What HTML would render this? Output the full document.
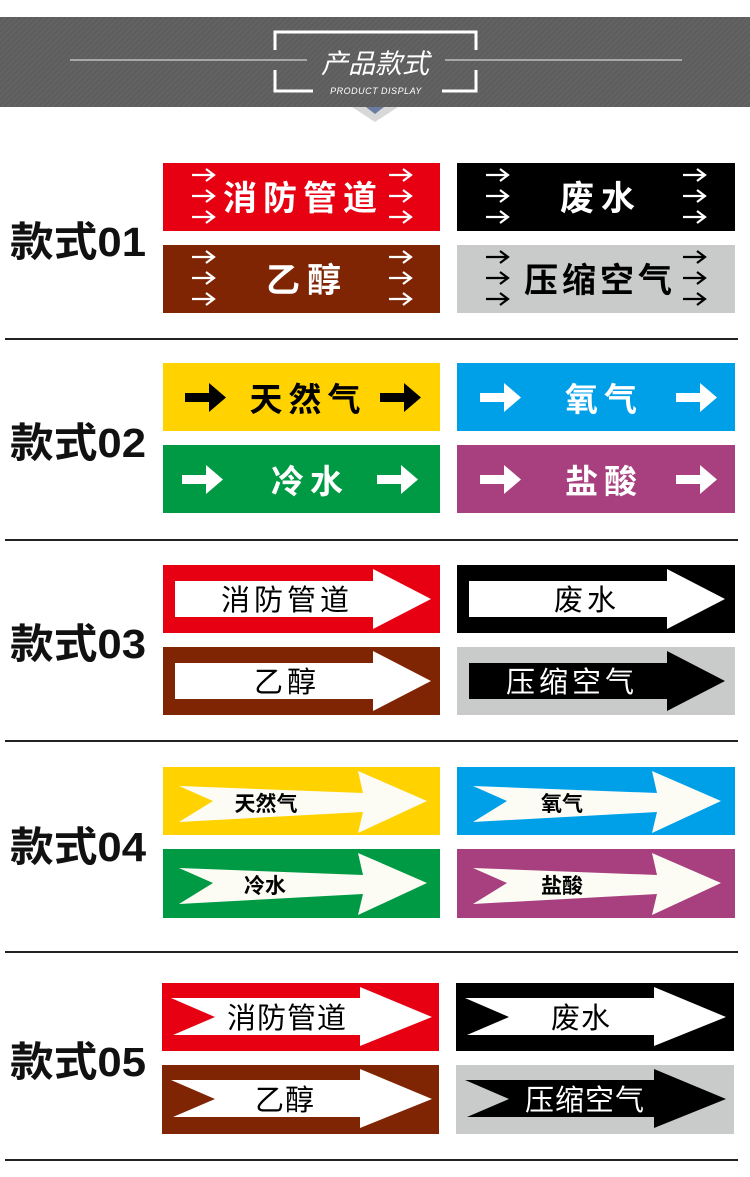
<!DOCTYPE html>
<html><head><meta charset="utf-8"><style>
html,body{margin:0;padding:0;background:#fff}
svg{display:block}
text{font-family:"Liberation Sans","Noto Sans CJK SC",sans-serif}
</style></head><body>
<svg width="750" height="1177" viewBox="0 0 750 1177" xmlns="http://www.w3.org/2000/svg">
<defs>
<pattern id="hatch" width="4" height="4" patternUnits="userSpaceOnUse" patternTransform="rotate(45)">
<rect width="4" height="4" fill="#5e5e5e"/><rect width="1" height="4" fill="#666"/></pattern>
<g id="sa"><path d="M0 0 H22 M14 -6 L22 0 L14 6" stroke="currentColor" stroke-width="2.2" fill="none"/></g>
<g id="sa3"><use href="#sa" y="0"/><use href="#sa" y="21"/><use href="#sa" y="42"/></g>
<path id="ba" d="M0 10 H24 V0 L41 14.5 L24 29 V19 H0 Z"/>
<path id="a3" d="M12 16 H210 V4 L268 34 L210 64 V52 H12 Z"/>
<path id="a4" d="M16 19 L200 26 L195 4 L264 34 L195 66 L200 45 L16 55 L50 34 Z"/>
<path id="a5" d="M9 15 H198 V4 L270 34 L198 63 V52 H11 L53 34 Z"/>
</defs>

<!-- header -->
<rect x="0" y="17" width="750" height="90" fill="url(#hatch)"/>
<polygon points="352,107 398,107 375,122" fill="#d8d8d8"/>
<polygon points="366,107 384,107 375,114" fill="#6a7ca0"/>
<line x1="70" y1="60" x2="307" y2="60" stroke="#eee" stroke-width="1"/>
<line x1="445" y1="60" x2="682" y2="60" stroke="#eee" stroke-width="1"/>
<path d="M275 50 V32 H476 V50" stroke="#fff" stroke-width="3" fill="none"/>
<path d="M275 70 V91 H313 M442 91 H476 V70" stroke="#fff" stroke-width="3" fill="none"/>
<text x="375" y="73" font-size="27" fill="#fff" text-anchor="middle" font-style="italic">产品款式</text>
<text x="376" y="94" font-size="9" fill="#fff" text-anchor="middle" font-style="italic" letter-spacing="0.5">PRODUCT DISPLAY</text>

<!-- separators -->
<g stroke="#222" stroke-width="2">
<line x1="5" y1="339" x2="738" y2="339"/>
<line x1="5" y1="540" x2="738" y2="540"/>
<line x1="5" y1="741" x2="738" y2="741"/>
<line x1="5" y1="952" x2="738" y2="952"/>
<line x1="5" y1="1160" x2="738" y2="1160"/>
</g>

<!-- row labels -->
<g font-size="41" font-weight="bold" fill="#111">
<text x="10" y="256" textLength="136" lengthAdjust="spacingAndGlyphs">款式01</text>
<text x="10" y="457" textLength="136" lengthAdjust="spacingAndGlyphs">款式02</text>
<text x="10" y="658" textLength="136" lengthAdjust="spacingAndGlyphs">款式03</text>
<text x="10" y="861" textLength="136" lengthAdjust="spacingAndGlyphs">款式04</text>
<text x="10" y="1076" textLength="136" lengthAdjust="spacingAndGlyphs">款式05</text>
</g>

<!-- style 1 -->
<rect x="163" y="163" width="277" height="68" fill="#e60012"/>
<rect x="457" y="163" width="278" height="68" fill="#000"/>
<rect x="163" y="245" width="277" height="68" fill="#7f2504"/>
<rect x="457" y="245" width="278" height="68" fill="#c9caca"/>
<g color="#fff">
<use href="#sa3" x="192" y="175"/><use href="#sa3" x="389" y="175"/>
<use href="#sa3" x="192" y="257"/><use href="#sa3" x="389" y="257"/>
<use href="#sa3" x="486" y="175"/><use href="#sa3" x="683" y="175"/>
</g>
<g color="#000"><use href="#sa3" x="486" y="257"/><use href="#sa3" x="683" y="257"/></g>
<g font-size="34" text-anchor="middle" font-weight="bold">
<text x="303" y="210" fill="#fff" letter-spacing="6">消防管道</text>
<text x="307" y="292" fill="#fff" letter-spacing="7">乙醇</text>
<text x="601" y="210" fill="#fff" letter-spacing="7">废水</text>
<text x="600" y="292" fill="#000" letter-spacing="4">压缩空气</text>
</g>

<!-- style 2 -->
<rect x="163" y="363" width="277" height="68" fill="#ffd200"/>
<rect x="457" y="363" width="278" height="68" fill="#00a0e9"/>
<rect x="163" y="445" width="277" height="68" fill="#009a44"/>
<rect x="457" y="445" width="278" height="68" fill="#a8407f"/>
<use href="#ba" x="185" y="383" fill="#000"/><use href="#ba" x="380" y="383" fill="#000"/>
<use href="#ba" x="480" y="383" fill="#fff"/><use href="#ba" x="676" y="383" fill="#fff"/>
<use href="#ba" x="182" y="465" fill="#fff"/><use href="#ba" x="377" y="465" fill="#fff"/>
<use href="#ba" x="480" y="465" fill="#fff"/><use href="#ba" x="676" y="465" fill="#fff"/>
<g font-size="33" text-anchor="middle" letter-spacing="6" font-weight="bold">
<text x="308" y="411" fill="#000">天然气</text>
<text x="604" y="411" fill="#fff">氧气</text>
<text x="310" y="493" fill="#fff">冷水</text>
<text x="604" y="493" fill="#fff">盐酸</text>
</g>

<!-- style 3 -->
<rect x="163" y="565" width="277" height="68" fill="#e60012"/>
<rect x="457" y="565" width="278" height="68" fill="#000"/>
<rect x="163" y="647" width="277" height="68" fill="#7f2504"/>
<rect x="457" y="647" width="278" height="68" fill="#c9caca"/>
<use href="#a3" x="163" y="565" fill="#fff"/>
<use href="#a3" x="457" y="565" fill="#fff"/>
<use href="#a3" x="163" y="647" fill="#fff"/>
<use href="#a3" x="457" y="647" fill="#000"/>
<g font-size="29" text-anchor="middle" letter-spacing="4">
<text x="287" y="610" fill="#000">消防管道</text>
<text x="587" y="610" fill="#000">废水</text>
<text x="287" y="692" fill="#000">乙醇</text>
<text x="572" y="692" fill="#fff">压缩空气</text>
</g>

<!-- style 4 -->
<rect x="163" y="767" width="277" height="68" fill="#ffd200"/>
<rect x="457" y="767" width="278" height="68" fill="#00a0e9"/>
<rect x="163" y="849" width="277" height="69" fill="#009a44"/>
<rect x="457" y="849" width="278" height="69" fill="#a8407f"/>
<use href="#a4" x="163" y="767" fill="#fcfcf5"/>
<use href="#a4" x="457" y="767" fill="#fcfcf5"/>
<use href="#a4" x="163" y="849" fill="#fcfcf5"/>
<use href="#a4" x="457" y="849" fill="#fcfcf5"/>
<g font-size="21" text-anchor="middle" fill="#000" font-weight="bold">
<text x="266" y="811">天然气</text>
<text x="562" y="811">氧气</text>
<text x="265" y="893">冷水</text>
<text x="562" y="893">盐酸</text>
</g>

<!-- style 5 -->
<rect x="162" y="983" width="277" height="68" fill="#e60012"/>
<rect x="456" y="983" width="278" height="68" fill="#000"/>
<rect x="162" y="1065" width="277" height="69" fill="#7f2504"/>
<rect x="456" y="1065" width="278" height="69" fill="#c9caca"/>
<use href="#a5" x="162" y="983" fill="#fff"/>
<use href="#a5" x="456" y="983" fill="#fff"/>
<use href="#a5" x="162" y="1065" fill="#fff"/>
<use href="#a5" x="456" y="1065" fill="#000"/>
<g font-size="29" text-anchor="middle" letter-spacing="1">
<text x="287" y="1028" fill="#000">消防管道</text>
<text x="581" y="1028" fill="#000">废水</text>
<text x="285" y="1110" fill="#000">乙醇</text>
<text x="585" y="1110" fill="#fff">压缩空气</text>
</g>
</svg>
</body></html>
